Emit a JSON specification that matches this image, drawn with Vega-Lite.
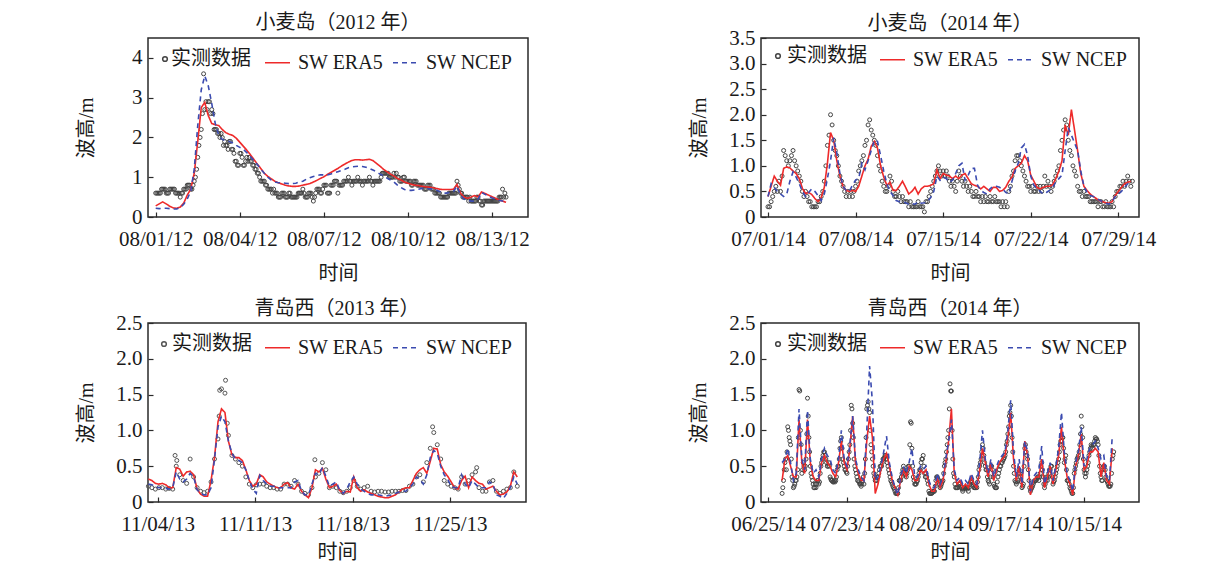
{
  "$schema": "https://vega.github.io/schema/vega-lite/v6.json",
  "background": "white",
  "padding": {"left": 75, "top": 12, "right": 10, "bottom": 5},
  "config": {
    "font": "Liberation Serif, Noto Sans CJK SC",
    "view": {"stroke": "#2a2a2a", "strokeWidth": 1.5},
    "axis": {
      "grid": false, "domain": false, "ticks": true,
      "tickColor": "#2a2a2a", "tickSize": -5, "tickWidth": 1.2,
      "labelFont": "Liberation Serif, Noto Sans CJK SC", "labelFontSize": 21, "labelColor": "#1a1a1a",
      "titleFont": "Liberation Serif, Noto Sans CJK SC", "titleFontSize": 20, "titleFontWeight": "normal", "titleColor": "#1a1a1a",
      "labelOverlap": false, "labelFlush": false, "labelBound": false
    },
    "axisX": {"labelPadding": 16, "minExtent": 32, "maxExtent": 32, "titlePadding": 14},
    "axisY": {"labelPadding": 11, "minExtent": 34, "maxExtent": 34, "titlePadding": 18},
    "title": {"font": "Liberation Serif, Noto Sans CJK SC", "fontSize": 20, "fontWeight": "normal", "color": "#1a1a1a", "frame": "group"},
    "legend": {"labelFont": "Liberation Serif, Noto Sans CJK SC", "labelFontSize": 20, "labelColor": "#1a1a1a", "padding": 0, "rowPadding": 0}
  },
  "datasets": {
    "p1": [
      {"t":"2012080100","o":0.6,"e":0.28,"n":0.22},{"t":"2012080103","o":0.6,"e":0.33,"n":0.21},{"t":"2012080106","o":0.7,"e":0.38,"n":0.22},{"t":"2012080109","o":0.6,"e":0.33,"n":0.22},
      {"t":"2012080112","o":0.7,"e":0.27,"n":0.21},{"t":"2012080115","o":0.7,"e":0.23,"n":0.2},{"t":"2012080118","o":0.6,"e":0.22,"n":0.2},{"t":"2012080121","o":0.5,"e":0.25,"n":0.24},
      {"t":"2012080200","o":0.7,"e":0.35,"n":0.32},{"t":"2012080203","o":0.8,"e":0.55,"n":0.45},{"t":"2012080206","o":0.7,"e":0.7,"n":0.65},{"t":"2012080209","o":0.9,"e":1.1,"n":1.2},
      {"t":"2012080212","o":1.5,"e":1.9,"n":2.3},{"t":"2012080215","o":2.2,"e":2.75,"n":3.2},{"t":"2012080217","o":3.6},{"t":"2012080218","o":2.7,"e":2.88,"n":3.55},{"t":"2012080221","o":2.9,"e":2.55,"n":3.3},
      {"t":"2012080300","o":2.7,"e":2.35,"n":2.85},{"t":"2012080303","o":2.2,"e":2.32,"n":2.35},{"t":"2012080306","o":2.1,"e":2.3,"n":2.05},{"t":"2012080309","o":2.0,"e":2.2,"n":1.95},
      {"t":"2012080312","o":1.8,"e":2.12,"n":1.92},{"t":"2012080315","o":1.9,"e":2.08,"n":1.9},{"t":"2012080318","o":1.7,"e":2.05,"n":1.86},{"t":"2012080321","o":1.4,"e":1.98,"n":1.8},
      {"t":"2012080400","o":1.6,"e":1.88,"n":1.75},{"t":"2012080403","o":1.3,"e":1.78,"n":1.7},{"t":"2012080406","o":1.5,"e":1.68,"n":1.62},{"t":"2012080409","o":1.4,"e":1.57,"n":1.52},
      {"t":"2012080412","o":1.3,"e":1.45,"n":1.42},{"t":"2012080415","o":1.1,"e":1.33,"n":1.32},{"t":"2012080418","o":0.9,"e":1.22,"n":1.2},{"t":"2012080421","o":0.9,"e":1.1,"n":1.1},
      {"t":"2012080500","o":0.7,"e":1.02,"n":1.0},{"t":"2012080503","o":0.7,"e":0.96,"n":0.93},{"t":"2012080506","o":0.6,"e":0.9,"n":0.88},{"t":"2012080509","o":0.5,"e":0.86,"n":0.86},
      {"t":"2012080512","o":0.6,"e":0.83,"n":0.86},{"t":"2012080515","o":0.5,"e":0.8,"n":0.85},{"t":"2012080518","o":0.6,"e":0.78,"n":0.84},{"t":"2012080521","o":0.5,"e":0.77,"n":0.84},
      {"t":"2012080600","o":0.5,"e":0.77,"n":0.85},{"t":"2012080603","o":0.6,"e":0.78,"n":0.88},{"t":"2012080606","o":0.7,"e":0.8,"n":0.9},{"t":"2012080609","o":0.5,"e":0.82,"n":0.95},
      {"t":"2012080612","o":0.6,"e":0.84,"n":0.99},{"t":"2012080615","o":0.4,"e":0.88,"n":1.02},{"t":"2012080618","o":0.7,"e":0.92,"n":1.04},{"t":"2012080621","o":0.6,"e":0.97,"n":1.06},
      {"t":"2012080700","o":0.8,"e":1.01,"n":1.06},{"t":"2012080703","o":0.6,"e":1.07,"n":1.06},{"t":"2012080706","o":0.8,"e":1.12,"n":1.08},{"t":"2012080709","o":0.9,"e":1.17,"n":1.11},
      {"t":"2012080712","o":0.6,"e":1.22,"n":1.14},{"t":"2012080715","o":0.8,"e":1.28,"n":1.17},{"t":"2012080718","o":0.9,"e":1.33,"n":1.2},{"t":"2012080721","o":1.0,"e":1.38,"n":1.24},
      {"t":"2012080800","o":0.8,"e":1.42,"n":1.26},{"t":"2012080803","o":0.9,"e":1.44,"n":1.27},{"t":"2012080806","o":0.9,"e":1.44,"n":1.28},{"t":"2012080809","o":0.8,"e":1.43,"n":1.27},
      {"t":"2012080812","o":0.9,"e":1.44,"n":1.25},{"t":"2012080815","o":1.0,"e":1.45,"n":1.22},{"t":"2012080818","o":0.8,"e":1.42,"n":1.18},{"t":"2012080821","o":0.9,"e":1.35,"n":1.14},
      {"t":"2012080900","o":0.9,"e":1.28,"n":1.08},{"t":"2012080903","o":1.1,"e":1.2,"n":1.04},{"t":"2012080906","o":1.1,"e":1.14,"n":0.98},{"t":"2012080909","o":1.0,"e":1.08,"n":0.93},
      {"t":"2012080912","o":1.1,"e":1.03,"n":0.88},{"t":"2012080915","o":1.0,"e":0.97,"n":0.8},{"t":"2012080918","o":0.9,"e":0.93,"n":0.74},{"t":"2012080921","o":1.0,"e":0.88,"n":0.69},
      {"t":"2012081000","o":0.9,"e":0.85,"n":0.67},{"t":"2012081003","o":0.8,"e":0.82,"n":0.67},{"t":"2012081006","o":0.9,"e":0.8,"n":0.68},{"t":"2012081009","o":0.8,"e":0.79,"n":0.7},
      {"t":"2012081012","o":0.8,"e":0.77,"n":0.72},{"t":"2012081015","o":0.7,"e":0.76,"n":0.72},{"t":"2012081018","o":0.8,"e":0.75,"n":0.71},{"t":"2012081021","o":0.7,"e":0.74,"n":0.7},
      {"t":"2012081100","o":0.6,"e":0.72,"n":0.68},{"t":"2012081103","o":0.6,"e":0.7,"n":0.64},{"t":"2012081106","o":0.5,"e":0.69,"n":0.6},{"t":"2012081109","o":0.5,"e":0.69,"n":0.6},
      {"t":"2012081112","o":0.6,"e":0.69,"n":0.62},{"t":"2012081115","o":0.6,"e":0.7,"n":0.64},{"t":"2012081118","o":0.9,"e":0.82,"n":0.78},{"t":"2012081121","o":0.6,"e":0.6,"n":0.55},
      {"t":"2012081200","o":0.5,"e":0.5,"n":0.45},{"t":"2012081203","o":0.5,"e":0.47,"n":0.43},{"t":"2012081206","o":0.4,"e":0.5,"n":0.4},{"t":"2012081209","o":0.4,"e":0.54,"n":0.4},
      {"t":"2012081212","o":0.5,"e":0.5,"n":0.45},{"t":"2012081215","o":0.3,"e":0.63,"n":0.62},{"t":"2012081218","o":0.4,"e":0.59,"n":0.57},{"t":"2012081221","o":0.4,"e":0.55,"n":0.52},
      {"t":"2012081300","o":0.4,"e":0.51,"n":0.48},{"t":"2012081303","o":0.4,"e":0.47,"n":0.45},{"t":"2012081306","o":0.5,"e":0.43,"n":0.42},{"t":"2012081309","o":0.7,"e":0.4,"n":0.4},
      {"t":"2012081312","o":0.5,"e":0.37,"n":0.38},
      {"t":"2012080101","o":0.6},{"t":"2012080102","o":0.6},{"t":"2012080104","o":0.6},{"t":"2012080105","o":0.7},{"t":"2012080107","o":0.7},{"t":"2012080108","o":0.7},
      {"t":"2012080110","o":0.6},{"t":"2012080111","o":0.6},{"t":"2012080113","o":0.7},{"t":"2012080114","o":0.7},{"t":"2012080116","o":0.7},{"t":"2012080117","o":0.6},
      {"t":"2012080119","o":0.6},{"t":"2012080120","o":0.6},{"t":"2012080122","o":0.6},{"t":"2012080123","o":0.6},
      {"t":"2012080201","o":0.7},{"t":"2012080202","o":0.7},{"t":"2012080204","o":0.8},{"t":"2012080205","o":0.8},{"t":"2012080207","o":0.7},{"t":"2012080208","o":0.8},
      {"t":"2012080210","o":1.0},{"t":"2012080211","o":1.2},{"t":"2012080213","o":1.8},{"t":"2012080214","o":2.0},{"t":"2012080216","o":2.6},
      {"t":"2012080219","o":2.9},{"t":"2012080220","o":2.7},{"t":"2012080222","o":2.9},{"t":"2012080223","o":2.6},
      {"t":"2012080301","o":2.6},{"t":"2012080302","o":2.2},{"t":"2012080304","o":2.2},{"t":"2012080305","o":2.1},{"t":"2012080307","o":2.0},{"t":"2012080308","o":2.1},
      {"t":"2012080310","o":1.8},{"t":"2012080311","o":1.9},{"t":"2012080313","o":1.8},{"t":"2012080314","o":1.7},{"t":"2012080316","o":1.9},{"t":"2012080317","o":1.7},
      {"t":"2012080319","o":1.6},{"t":"2012080320","o":1.4},{"t":"2012080322","o":1.3},{"t":"2012080323","o":1.3},
      {"t":"2012080401","o":1.6},{"t":"2012080402","o":1.5},{"t":"2012080404","o":1.3},{"t":"2012080405","o":1.4},{"t":"2012080407","o":1.4},{"t":"2012080408","o":1.5},
      {"t":"2012080410","o":1.4},{"t":"2012080411","o":1.3},{"t":"2012080413","o":1.2},{"t":"2012080414","o":1.2},{"t":"2012080416","o":1.1},{"t":"2012080417","o":1.0},
      {"t":"2012080419","o":0.9},{"t":"2012080420","o":0.9},{"t":"2012080422","o":0.8},{"t":"2012080423","o":0.8},
      {"t":"2012080501","o":0.7},{"t":"2012080502","o":0.7},{"t":"2012080504","o":0.6},{"t":"2012080505","o":0.7},{"t":"2012080507","o":0.6},{"t":"2012080508","o":0.6},
      {"t":"2012080510","o":0.5},{"t":"2012080511","o":0.5},{"t":"2012080513","o":0.6},{"t":"2012080514","o":0.6},{"t":"2012080516","o":0.5},{"t":"2012080517","o":0.5},
      {"t":"2012080519","o":0.6},{"t":"2012080520","o":0.5},{"t":"2012080522","o":0.5},{"t":"2012080523","o":0.5},
      {"t":"2012080601","o":0.5},{"t":"2012080602","o":0.6},{"t":"2012080604","o":0.6},{"t":"2012080605","o":0.6},{"t":"2012080607","o":0.6},{"t":"2012080608","o":0.5},
      {"t":"2012080610","o":0.5},{"t":"2012080611","o":0.6},{"t":"2012080613","o":0.6},{"t":"2012080614","o":0.5},{"t":"2012080616","o":0.5},{"t":"2012080617","o":0.6},
      {"t":"2012080619","o":0.7},{"t":"2012080620","o":0.7},{"t":"2012080622","o":0.6},{"t":"2012080623","o":0.7},
      {"t":"2012080701","o":0.8},{"t":"2012080702","o":0.8},{"t":"2012080704","o":0.6},{"t":"2012080705","o":0.6},{"t":"2012080707","o":0.8},{"t":"2012080708","o":0.8},
      {"t":"2012080710","o":0.9},{"t":"2012080711","o":0.9},{"t":"2012080713","o":0.8},{"t":"2012080714","o":0.8},{"t":"2012080716","o":0.8},{"t":"2012080717","o":0.9},
      {"t":"2012080719","o":0.9},{"t":"2012080720","o":0.9},{"t":"2012080722","o":0.9},{"t":"2012080723","o":0.9},
      {"t":"2012080801","o":0.9},{"t":"2012080802","o":0.9},{"t":"2012080804","o":0.9},{"t":"2012080805","o":1.0},{"t":"2012080807","o":0.9},{"t":"2012080808","o":0.9},
      {"t":"2012080810","o":0.9},{"t":"2012080811","o":0.9},{"t":"2012080813","o":0.9},{"t":"2012080814","o":0.9},{"t":"2012080816","o":0.9},{"t":"2012080817","o":0.9},
      {"t":"2012080819","o":0.9},{"t":"2012080820","o":0.9},{"t":"2012080822","o":0.9},{"t":"2012080823","o":0.9},
      {"t":"2012080901","o":1.0},{"t":"2012080902","o":1.1},{"t":"2012080904","o":1.1},{"t":"2012080905","o":1.1},{"t":"2012080907","o":1.1},{"t":"2012080908","o":1.0},
      {"t":"2012080910","o":1.0},{"t":"2012080911","o":1.0},{"t":"2012080913","o":1.0},{"t":"2012080914","o":1.1},{"t":"2012080916","o":1.0},{"t":"2012080917","o":0.9},
      {"t":"2012080919","o":0.9},{"t":"2012080920","o":1.0},{"t":"2012080922","o":0.9},{"t":"2012080923","o":0.9},
      {"t":"2012081001","o":0.9},{"t":"2012081002","o":0.9},{"t":"2012081004","o":0.8},{"t":"2012081005","o":0.9},{"t":"2012081007","o":0.9},{"t":"2012081008","o":0.8},
      {"t":"2012081010","o":0.8},{"t":"2012081011","o":0.8},{"t":"2012081013","o":0.8},{"t":"2012081014","o":0.7},{"t":"2012081016","o":0.7},{"t":"2012081017","o":0.8},
      {"t":"2012081019","o":0.8},{"t":"2012081020","o":0.7},{"t":"2012081022","o":0.7},{"t":"2012081023","o":0.6},
      {"t":"2012081101","o":0.6},{"t":"2012081102","o":0.6},{"t":"2012081104","o":0.5},{"t":"2012081105","o":0.5},{"t":"2012081107","o":0.5},{"t":"2012081108","o":0.5},
      {"t":"2012081110","o":0.5},{"t":"2012081111","o":0.6},{"t":"2012081113","o":0.6},{"t":"2012081114","o":0.6},{"t":"2012081116","o":0.6},{"t":"2012081117","o":0.6},
      {"t":"2012081119","o":0.8},{"t":"2012081120","o":0.7},{"t":"2012081122","o":0.6},{"t":"2012081123","o":0.5},
      {"t":"2012081201","o":0.5},{"t":"2012081202","o":0.5},{"t":"2012081204","o":0.4},{"t":"2012081205","o":0.5},{"t":"2012081207","o":0.4},{"t":"2012081208","o":0.4},
      {"t":"2012081210","o":0.4},{"t":"2012081211","o":0.5},{"t":"2012081213","o":0.4},{"t":"2012081214","o":0.4},{"t":"2012081216","o":0.3},{"t":"2012081217","o":0.4},
      {"t":"2012081219","o":0.4},{"t":"2012081220","o":0.4},{"t":"2012081222","o":0.4},{"t":"2012081223","o":0.4},
      {"t":"2012081301","o":0.4},{"t":"2012081302","o":0.4},{"t":"2012081304","o":0.4},{"t":"2012081305","o":0.4},{"t":"2012081307","o":0.5},{"t":"2012081308","o":0.5},
      {"t":"2012081310","o":0.5},{"t":"2012081311","o":0.6}
    ],
    "p2": [
      {"t":"2014070100","o":0.2,"e":0.4,"n":0.4},{"t":"2014070103","o":0.2},{"t":"2014070106","o":0.3,"e":0.6,"n":0.65},{"t":"2014070109","o":0.4},
      {"t":"2014070112","o":0.5,"e":0.8,"n":0.58},{"t":"2014070115","o":0.6},{"t":"2014070118","o":0.5,"e":0.7,"n":0.5},{"t":"2014070121","o":0.7},
      {"t":"2014070200","o":0.5,"e":0.62,"n":0.45},{"t":"2014070203","o":0.8},{"t":"2014070206","o":1.3,"e":0.95,"n":0.4},{"t":"2014070209","o":1.2},
      {"t":"2014070212","o":1.1,"e":0.98,"n":0.45},{"t":"2014070215","o":1.0},{"t":"2014070218","o":1.1,"e":0.96,"n":0.7},{"t":"2014070221","o":1.2},
      {"t":"2014070300","o":1.3,"e":0.9,"n":0.88},{"t":"2014070303","o":1.1},{"t":"2014070306","o":1.0,"e":0.85,"n":0.78},{"t":"2014070309","o":0.9},
      {"t":"2014070312","o":0.8,"e":0.75,"n":0.65},{"t":"2014070315","o":0.7},{"t":"2014070318","o":0.5,"e":0.56,"n":0.5},{"t":"2014070321","o":0.4},
      {"t":"2014070400","o":0.5,"e":0.46,"n":0.4},{"t":"2014070403","o":0.4},{"t":"2014070406","o":0.3,"e":0.48,"n":0.48},{"t":"2014070409","o":0.3},
      {"t":"2014070412","o":0.2,"e":0.44,"n":0.55},{"t":"2014070415","o":0.2},{"t":"2014070418","o":0.2,"e":0.36,"n":0.5},{"t":"2014070421","o":0.2},
      {"t":"2014070500","o":0.3,"e":0.3,"n":0.42},{"t":"2014070503","o":0.3},{"t":"2014070506","o":0.4,"e":0.38,"n":0.32},{"t":"2014070509","o":0.5},
      {"t":"2014070512","o":0.7,"e":0.58,"n":0.45},{"t":"2014070515","o":1.0},{"t":"2014070518","o":1.4,"e":1.05,"n":0.75},{"t":"2014070521","o":1.6},
      {"t":"2014070600","o":2.0,"e":1.65,"n":1.1},{"t":"2014070603","o":1.8},{"t":"2014070606","o":1.5,"e":1.5,"n":1.55},{"t":"2014070609","o":1.3},
      {"t":"2014070612","o":1.2,"e":1.1,"n":1.25},{"t":"2014070615","o":1.0},{"t":"2014070618","o":0.8,"e":0.8,"n":0.85},{"t":"2014070621","o":0.7},
      {"t":"2014070700","o":0.6,"e":0.6,"n":0.6},{"t":"2014070703","o":0.5},{"t":"2014070706","o":0.4,"e":0.52,"n":0.52},{"t":"2014070709","o":0.5},
      {"t":"2014070712","o":0.4,"e":0.5,"n":0.5},{"t":"2014070715","o":0.5},{"t":"2014070718","o":0.4,"e":0.52,"n":0.62},{"t":"2014070721","o":0.5},
      {"t":"2014070800","o":0.6,"e":0.5,"n":0.72},{"t":"2014070803","o":0.7},{"t":"2014070806","o":0.9,"e":0.6,"n":0.75},{"t":"2014070809","o":1.0},
      {"t":"2014070812","o":1.1,"e":0.8,"n":1.05},{"t":"2014070815","o":1.2},{"t":"2014070818","o":1.4,"e":1.0,"n":0.92},{"t":"2014070821","o":1.5},
      {"t":"2014070900","o":1.8,"e":1.13,"n":1.1},{"t":"2014070903","o":1.9},{"t":"2014070906","o":1.7,"e":1.38,"n":1.3},{"t":"2014070909","o":1.6},
      {"t":"2014070912","o":1.5,"e":1.48,"n":1.5},{"t":"2014070915","o":1.4},{"t":"2014070918","o":1.2,"e":1.35,"n":1.48},{"t":"2014070921","o":1.0},
      {"t":"2014071000","o":0.9,"e":1.0,"n":1.2},{"t":"2014071003","o":0.7},{"t":"2014071006","o":0.6,"e":0.78,"n":0.9},{"t":"2014071009","o":0.5},
      {"t":"2014071012","o":0.5,"e":0.62,"n":0.65},{"t":"2014071015","o":0.6},{"t":"2014071018","o":0.8,"e":0.68,"n":0.5},{"t":"2014071021","o":0.7},
      {"t":"2014071100","o":0.5,"e":0.52,"n":0.42},{"t":"2014071103","o":0.4},{"t":"2014071106","o":0.4,"e":0.52,"n":0.32},{"t":"2014071109","o":0.5},
      {"t":"2014071112","o":0.4,"e":0.6,"n":0.3},{"t":"2014071115","o":0.3},{"t":"2014071118","o":0.4,"e":0.7,"n":0.3},{"t":"2014071121","o":0.3},
      {"t":"2014071200","o":0.3,"e":0.58,"n":0.28},{"t":"2014071203","o":0.3},{"t":"2014071206","o":0.2,"e":0.45,"n":0.25},{"t":"2014071209","o":0.3},
      {"t":"2014071212","o":0.2,"e":0.5,"n":0.26},{"t":"2014071215","o":0.2},{"t":"2014071218","o":0.2,"e":0.58,"n":0.25},{"t":"2014071221","o":0.2},
      {"t":"2014071300","o":0.3,"e":0.45,"n":0.3},{"t":"2014071303","o":0.2},{"t":"2014071306","o":0.2,"e":0.55,"n":0.27},{"t":"2014071309","o":0.2},
      {"t":"2014071312","o":0.1,"e":0.6,"n":0.28},{"t":"2014071315","o":0.3},{"t":"2014071318","o":0.3,"e":0.6,"n":0.3},{"t":"2014071321","o":0.4},
      {"t":"2014071400","o":0.5,"e":0.62,"n":0.38},{"t":"2014071403","o":0.6},{"t":"2014071406","o":0.7,"e":0.65,"n":0.5},{"t":"2014071409","o":0.8},
      {"t":"2014071412","o":0.9,"e":0.92,"n":0.8},{"t":"2014071415","o":1.0},{"t":"2014071418","o":0.9,"e":0.75,"n":0.72},{"t":"2014071421","o":0.8},
      {"t":"2014071500","o":0.9,"e":0.85,"n":0.78},{"t":"2014071503","o":0.8},{"t":"2014071506","o":0.9,"e":0.82,"n":0.75},{"t":"2014071509","o":0.8},
      {"t":"2014071512","o":0.7,"e":0.8,"n":0.68},{"t":"2014071515","o":0.6},{"t":"2014071518","o":0.7,"e":0.75,"n":0.72},{"t":"2014071521","o":0.6},
      {"t":"2014071600","o":0.5,"e":0.8,"n":0.85},{"t":"2014071603","o":0.7},{"t":"2014071606","o":0.9,"e":0.75,"n":1.0},{"t":"2014071609","o":0.8},
      {"t":"2014071612","o":0.7,"e":0.82,"n":1.05},{"t":"2014071615","o":0.6},{"t":"2014071618","o":0.7,"e":0.85,"n":0.72},{"t":"2014071621","o":0.6},
      {"t":"2014071700","o":0.5,"e":0.75,"n":0.82},{"t":"2014071703","o":0.6},{"t":"2014071706","o":0.5,"e":0.65,"n":0.95},{"t":"2014071709","o":0.4},
      {"t":"2014071712","o":0.4,"e":0.62,"n":0.95},{"t":"2014071715","o":0.5},{"t":"2014071718","o":0.4,"e":0.6,"n":0.62},{"t":"2014071721","o":0.4},
      {"t":"2014071800","o":0.3,"e":0.55,"n":0.52},{"t":"2014071803","o":0.4},{"t":"2014071806","o":0.3,"e":0.6,"n":0.48},{"t":"2014071809","o":0.4},
      {"t":"2014071812","o":0.3,"e":0.55,"n":0.45},{"t":"2014071815","o":0.3},{"t":"2014071818","o":0.4,"e":0.5,"n":0.55},{"t":"2014071821","o":0.3},
      {"t":"2014071900","o":0.3,"e":0.58,"n":0.6},{"t":"2014071903","o":0.4},{"t":"2014071906","o":0.3,"e":0.58,"n":0.6},{"t":"2014071909","o":0.3},
      {"t":"2014071912","o":0.3,"e":0.5,"n":0.58},{"t":"2014071915","o":0.2},{"t":"2014071918","o":0.3,"e":0.52,"n":0.55},{"t":"2014071921","o":0.2},
      {"t":"2014072000","o":0.3,"e":0.58,"n":0.48},{"t":"2014072003","o":0.2},{"t":"2014072006","o":0.5,"e":0.7,"n":0.45},{"t":"2014072009","o":0.6},
      {"t":"2014072012","o":0.8,"e":0.78,"n":0.7},{"t":"2014072015","o":0.9},{"t":"2014072018","o":1.1,"e":0.95,"n":0.9},{"t":"2014072021","o":1.2},
      {"t":"2014072100","o":1.2,"e":1.0,"n":1.05},{"t":"2014072103","o":1.1},{"t":"2014072106","o":1.0,"e":1.05,"n":1.35},{"t":"2014072109","o":0.9},
      {"t":"2014072112","o":0.8,"e":1.2,"n":1.42},{"t":"2014072115","o":0.7},{"t":"2014072118","o":0.6,"e":1.1,"n":1.2},{"t":"2014072121","o":0.6},
      {"t":"2014072200","o":0.5,"e":0.82,"n":0.8},{"t":"2014072203","o":0.6},{"t":"2014072206","o":0.5,"e":0.7,"n":0.62},{"t":"2014072209","o":0.5},
      {"t":"2014072212","o":0.6,"e":0.58,"n":0.56},{"t":"2014072215","o":0.5},{"t":"2014072218","o":0.6,"e":0.55,"n":0.5},{"t":"2014072221","o":0.5},
      {"t":"2014072300","o":0.6,"e":0.58,"n":0.45},{"t":"2014072303","o":0.8},{"t":"2014072306","o":0.6,"e":0.6,"n":0.48},{"t":"2014072309","o":0.7},
      {"t":"2014072312","o":0.6,"e":0.6,"n":0.52},{"t":"2014072315","o":0.5},{"t":"2014072318","o":0.6,"e":0.63,"n":0.58},{"t":"2014072321","o":0.7},
      {"t":"2014072400","o":0.8,"e":0.75,"n":0.68},{"t":"2014072403","o":0.9},{"t":"2014072406","o":1.0,"e":0.9,"n":0.75},{"t":"2014072409","o":1.3},
      {"t":"2014072412","o":1.5,"e":1.1,"n":0.82},{"t":"2014072415","o":1.7},{"t":"2014072418","o":1.9,"e":1.8,"n":1.3},{"t":"2014072421","o":1.8},
      {"t":"2014072500","o":1.5,"e":1.6,"n":1.75},{"t":"2014072503","o":1.3},{"t":"2014072506","o":1.2,"e":2.1,"n":1.6},{"t":"2014072509","o":1.0},
      {"t":"2014072512","o":0.9,"e":1.7,"n":1.45},{"t":"2014072515","o":0.8},{"t":"2014072518","o":0.6,"e":1.29,"n":1.3},{"t":"2014072521","o":0.5},
      {"t":"2014072600","o":0.5,"e":0.85,"n":0.9},{"t":"2014072603","o":0.4},{"t":"2014072606","o":0.5,"e":0.6,"n":0.6},{"t":"2014072609","o":0.4},
      {"t":"2014072612","o":0.4,"e":0.52,"n":0.48},{"t":"2014072615","o":0.4},{"t":"2014072618","o":0.3,"e":0.45,"n":0.42},{"t":"2014072621","o":0.3},
      {"t":"2014072700","o":0.3,"e":0.4,"n":0.4},{"t":"2014072703","o":0.3},{"t":"2014072706","o":0.3,"e":0.36,"n":0.37},{"t":"2014072709","o":0.2},
      {"t":"2014072712","o":0.3,"e":0.32,"n":0.33},{"t":"2014072715","o":0.3},{"t":"2014072718","o":0.2,"e":0.3,"n":0.3},{"t":"2014072721","o":0.2},
      {"t":"2014072800","o":0.3,"e":0.28,"n":0.27},{"t":"2014072803","o":0.2},{"t":"2014072806","o":0.2,"e":0.27,"n":0.25},{"t":"2014072809","o":0.2},
      {"t":"2014072812","o":0.3,"e":0.3,"n":0.3},{"t":"2014072815","o":0.2},{"t":"2014072818","o":0.4,"e":0.42,"n":0.4},{"t":"2014072821","o":0.5},
      {"t":"2014072900","o":0.5,"e":0.5,"n":0.45},{"t":"2014072903","o":0.6},{"t":"2014072906","o":0.6,"e":0.58,"n":0.5},{"t":"2014072909","o":0.7},
      {"t":"2014072912","o":0.6,"e":0.65,"n":0.58},{"t":"2014072915","o":0.7},{"t":"2014072918","o":0.8,"e":0.68,"n":0.65},{"t":"2014072921","o":0.7},
      {"t":"2014073000","o":0.6,"e":0.7,"n":0.7},{"t":"2014073003","o":0.7}
    ],
    "p3": [
      {"t":"2013110308","o":0.22,"e":0.32,"n":0.25},{"t":"2013110314","o":0.2,"e":0.3,"n":0.24},{"t":"2013110320","o":0.18,"e":0.26,"n":0.22},{"t":"2013110402","o":0.2,"e":0.25,"n":0.2},
      {"t":"2013110408","o":0.2,"e":0.26,"n":0.2},{"t":"2013110414","o":0.18,"e":0.24,"n":0.19},{"t":"2013110420","o":0.19,"e":0.2,"n":0.18},{"t":"2013110502","o":0.18,"e":0.2,"n":0.2},
      {"t":"2013110506","o":0.65},{"t":"2013110508","o":0.5,"e":0.48,"n":0.42},{"t":"2013110509","o":0.58},{"t":"2013110514","o":0.38,"e":0.46,"n":0.32},{"t":"2013110520","o":0.3,"e":0.36,"n":0.28},
      {"t":"2013110602","o":0.26,"e":0.42,"n":0.32},{"t":"2013110608","o":0.6,"e":0.43,"n":0.4},{"t":"2013110614","o":0.35,"e":0.38,"n":0.35},{"t":"2013110620","o":0.2,"e":0.18,"n":0.17},
      {"t":"2013110702","o":0.15,"e":0.11,"n":0.12},{"t":"2013110708","o":0.13,"e":0.08,"n":0.1},{"t":"2013110714","o":0.15,"e":0.08,"n":0.1},{"t":"2013110720","o":0.28,"e":0.3,"n":0.2},
      {"t":"2013110802","o":0.6,"e":0.62,"n":0.6},{"t":"2013110808","o":0.88,"e":1.12,"n":1.05},{"t":"2013110810","o":1.2},{"t":"2013110811","o":1.56},{"t":"2013110814","o":1.58,"e":1.3,"n":1.2},
      {"t":"2013110820","o":1.52,"e":1.25,"n":1.12},{"t":"2013110821","o":1.7},{"t":"2013110900","o":1.1},{"t":"2013110902","o":0.93,"e":0.85,"n":0.85},{"t":"2013110908","o":0.65,"e":0.66,"n":0.68},
      {"t":"2013110914","o":0.6,"e":0.62,"n":0.6},{"t":"2013110920","o":0.55,"e":0.62,"n":0.58},{"t":"2013111002","o":0.5,"e":0.58,"n":0.55},{"t":"2013111008","o":0.35,"e":0.45,"n":0.45},
      {"t":"2013111014","o":0.25,"e":0.3,"n":0.3},{"t":"2013111020","o":0.2,"e":0.22,"n":0.18},{"t":"2013111102","o":0.24,"e":0.25,"n":0.12},{"t":"2013111108","o":0.25,"e":0.38,"n":0.37},
      {"t":"2013111114","o":0.25,"e":0.35,"n":0.3},{"t":"2013111120","o":0.22,"e":0.28,"n":0.25},{"t":"2013111202","o":0.2,"e":0.25,"n":0.22},{"t":"2013111208","o":0.2,"e":0.22,"n":0.22},
      {"t":"2013111214","o":0.18,"e":0.2,"n":0.2},{"t":"2013111220","o":0.18,"e":0.2,"n":0.2},{"t":"2013111302","o":0.25,"e":0.25,"n":0.2},{"t":"2013111308","o":0.25,"e":0.27,"n":0.2},
      {"t":"2013111314","o":0.22,"e":0.2,"n":0.2},{"t":"2013111320","o":0.3,"e":0.18,"n":0.28},{"t":"2013111402","o":0.25,"e":0.25,"n":0.3},{"t":"2013111408","o":0.15,"e":0.15,"n":0.15},
      {"t":"2013111414","o":0.12,"e":0.1,"n":0.1},{"t":"2013111420","o":0.1,"e":0.06,"n":0.1},{"t":"2013111502","o":0.2,"e":0.2,"n":0.25},{"t":"2013111507","o":0.59},{"t":"2013111508","o":0.35,"e":0.45,"n":0.4},
      {"t":"2013111514","o":0.4,"e":0.42,"n":0.38},{"t":"2013111520","o":0.55,"e":0.47,"n":0.48},{"t":"2013111602","o":0.45,"e":0.32,"n":0.36},{"t":"2013111608","o":0.2,"e":0.2,"n":0.22},
      {"t":"2013111614","o":0.22,"e":0.22,"n":0.25},{"t":"2013111620","o":0.2,"e":0.25,"n":0.28},{"t":"2013111702","o":0.15,"e":0.16,"n":0.16},{"t":"2013111708","o":0.13,"e":0.12,"n":0.12},
      {"t":"2013111714","o":0.15,"e":0.15,"n":0.18},{"t":"2013111720","o":0.2,"e":0.14,"n":0.28},{"t":"2013111802","o":0.3,"e":0.35,"n":0.35},{"t":"2013111808","o":0.22,"e":0.2,"n":0.25},
      {"t":"2013111814","o":0.18,"e":0.15,"n":0.18},{"t":"2013111820","o":0.2,"e":0.17,"n":0.15},{"t":"2013111902","o":0.22,"e":0.14,"n":0.12},{"t":"2013111908","o":0.15,"e":0.12,"n":0.1},
      {"t":"2013111914","o":0.14,"e":0.1,"n":0.1},{"t":"2013111920","o":0.15,"e":0.08,"n":0.1},{"t":"2013112002","o":0.15,"e":0.07,"n":0.09},{"t":"2013112008","o":0.14,"e":0.06,"n":0.08},
      {"t":"2013112014","o":0.14,"e":0.06,"n":0.09},{"t":"2013112020","o":0.15,"e":0.08,"n":0.1},{"t":"2013112102","o":0.15,"e":0.1,"n":0.12},{"t":"2013112108","o":0.15,"e":0.14,"n":0.14},
      {"t":"2013112114","o":0.16,"e":0.18,"n":0.15},{"t":"2013112120","o":0.16,"e":0.2,"n":0.15},{"t":"2013112202","o":0.22,"e":0.2,"n":0.2},{"t":"2013112208","o":0.25,"e":0.3,"n":0.25},
      {"t":"2013112214","o":0.35,"e":0.4,"n":0.35},{"t":"2013112220","o":0.38,"e":0.45,"n":0.32},{"t":"2013112302","o":0.28,"e":0.48,"n":0.25},{"t":"2013112308","o":0.55,"e":0.4,"n":0.38},
      {"t":"2013112314","o":0.75,"e":0.57,"n":0.62},{"t":"2013112318","o":1.05},{"t":"2013112320","o":0.97,"e":0.75,"n":0.72},{"t":"2013112402","o":0.8,"e":0.74,"n":0.68},
      {"t":"2013112408","o":0.6,"e":0.52,"n":0.5},{"t":"2013112414","o":0.3,"e":0.42,"n":0.38},{"t":"2013112420","o":0.25,"e":0.36,"n":0.32},{"t":"2013112502","o":0.22,"e":0.28,"n":0.22},
      {"t":"2013112508","o":0.2,"e":0.2,"n":0.2},{"t":"2013112514","o":0.18,"e":0.18,"n":0.2},{"t":"2013112520","o":0.35,"e":0.3,"n":0.38},{"t":"2013112602","o":0.25,"e":0.36,"n":0.25},
      {"t":"2013112608","o":0.3,"e":0.2,"n":0.2},{"t":"2013112614","o":0.38,"e":0.35,"n":0.3},{"t":"2013112620","o":0.42,"e":0.3,"n":0.25},{"t":"2013112622","o":0.48},{"t":"2013112702","o":0.2,"e":0.26,"n":0.2},
      {"t":"2013112708","o":0.15,"e":0.25,"n":0.2},{"t":"2013112714","o":0.15,"e":0.18,"n":0.2},{"t":"2013112720","o":0.28,"e":0.2,"n":0.28},{"t":"2013112802","o":0.3,"e":0.22,"n":0.25},
      {"t":"2013112808","o":0.15,"e":0.15,"n":0.1},{"t":"2013112814","o":0.12,"e":0.1,"n":0.08},{"t":"2013112820","o":0.15,"e":0.11,"n":0.05},{"t":"2013112902","o":0.18,"e":0.14,"n":0.12},
      {"t":"2013112908","o":0.2,"e":0.22,"n":0.2},{"t":"2013112914","o":0.42,"e":0.42,"n":0.35},{"t":"2013112920","o":0.22,"e":0.35,"n":0.25}
    ],
    "p4": [
      {"t":"2014063000","o":0.12,"e":0.3,"n":0.55},{"t":"2014063012","o":0.3},{"t":"2014070100","o":0.55,"e":0.6,"n":0.6},{"t":"2014070112","o":0.45},
      {"t":"2014070200","o":1.05,"e":0.65,"n":0.75},{"t":"2014070212","o":0.9},{"t":"2014070300","o":0.8,"e":0.5,"n":0.55},{"t":"2014070312","o":0.35},
      {"t":"2014070400","o":0.2,"e":0.35,"n":0.3},{"t":"2014070412","o":0.25},{"t":"2014070500","o":0.3,"e":0.35,"n":0.4},{"t":"2014070512","o":0.45},
      {"t":"2014070600","o":1.57,"e":1.15,"n":1.3},{"t":"2014070612","o":1.0},{"t":"2014070700","o":0.4,"e":0.55,"n":0.6},{"t":"2014070712","o":0.55},
      {"t":"2014070800","o":0.45,"e":0.4,"n":0.45},{"t":"2014070812","o":0.6},{"t":"2014070900","o":1.45,"e":1.15,"n":1.28},{"t":"2014070912","o":0.9},
      {"t":"2014071000","o":0.5,"e":0.55,"n":0.6},{"t":"2014071012","o":0.35},{"t":"2014071100","o":0.25,"e":0.35,"n":0.4},{"t":"2014071112","o":0.2},
      {"t":"2014071200","o":0.2,"e":0.3,"n":0.45},{"t":"2014071212","o":0.3},{"t":"2014071300","o":0.25,"e":0.3,"n":0.35},{"t":"2014071312","o":0.4},
      {"t":"2014071400","o":0.55,"e":0.55,"n":0.6},{"t":"2014071412","o":0.65},{"t":"2014071500","o":0.7,"e":0.65,"n":0.75},{"t":"2014071512","o":0.6},
      {"t":"2014071600","o":0.5,"e":0.55,"n":0.65},{"t":"2014071612","o":0.55},{"t":"2014071700","o":0.35,"e":0.5,"n":0.6},{"t":"2014071712","o":0.3},
      {"t":"2014071800","o":0.28,"e":0.4,"n":0.45},{"t":"2014071812","o":0.3},{"t":"2014071900","o":0.3,"e":0.35,"n":0.4},{"t":"2014071912","o":0.45},
      {"t":"2014072000","o":0.5,"e":0.55,"n":0.6},{"t":"2014072012","o":0.75},{"t":"2014072100","o":0.9,"e":0.85,"n":1.0},{"t":"2014072112","o":0.6},
      {"t":"2014072200","o":0.5,"e":0.55,"n":0.6},{"t":"2014072212","o":0.45},{"t":"2014072300","o":0.4,"e":0.45,"n":0.5},{"t":"2014072312","o":0.6},
      {"t":"2014072400","o":0.8,"e":0.75,"n":0.8},{"t":"2014072412","o":1.35},{"t":"2014072500","o":1.1,"e":1.2,"n":1.2},{"t":"2014072512","o":0.6},
      {"t":"2014072600","o":0.45,"e":0.55,"n":0.6},{"t":"2014072612","o":0.35},{"t":"2014072700","o":0.3,"e":0.4,"n":0.45},{"t":"2014072712","o":0.25},
      {"t":"2014072800","o":0.22,"e":0.3,"n":0.35},{"t":"2014072812","o":0.3},{"t":"2014072900","o":0.25,"e":0.3,"n":0.3},{"t":"2014072912","o":0.6},
      {"t":"2014073000","o":1.3,"e":0.85,"n":1.0},{"t":"2014073012","o":1.4},{"t":"2014073100","o":1.25,"e":1.2,"n":1.9},{"t":"2014073112","o":0.8},
      {"t":"2014080100","o":0.6,"e":0.9,"n":1.4},{"t":"2014080112","o":0.4},{"t":"2014080200","o":0.3,"e":0.12,"n":0.3},{"t":"2014080212","o":0.3},
      {"t":"2014080300","o":0.35,"e":0.25,"n":0.35},{"t":"2014080312","o":0.45},{"t":"2014080400","o":0.5,"e":0.45,"n":0.5},{"t":"2014080412","o":0.55},
      {"t":"2014080500","o":0.6,"e":0.6,"n":0.7},{"t":"2014080512","o":0.65},{"t":"2014080600","o":0.6,"e":0.68,"n":0.92},{"t":"2014080612","o":0.5},
      {"t":"2014080700","o":0.4,"e":0.5,"n":0.55},{"t":"2014080712","o":0.3},{"t":"2014080800","o":0.25,"e":0.3,"n":0.35},{"t":"2014080812","o":0.2},
      {"t":"2014080900","o":0.15,"e":0.2,"n":0.2},{"t":"2014080912","o":0.12},{"t":"2014081000","o":0.12,"e":0.1,"n":0.1},{"t":"2014081012","o":0.3},
      {"t":"2014081100","o":0.3,"e":0.3,"n":0.35},{"t":"2014081112","o":0.4},{"t":"2014081200","o":0.5,"e":0.45,"n":0.5},{"t":"2014081212","o":0.4},
      {"t":"2014081300","o":0.35,"e":0.35,"n":0.4},{"t":"2014081312","o":0.45},{"t":"2014081400","o":0.5,"e":0.5,"n":0.55},{"t":"2014081412","o":1.12},
      {"t":"2014081500","o":0.75,"e":0.45,"n":0.75},{"t":"2014081512","o":0.35},{"t":"2014081600","o":0.25,"e":0.3,"n":0.35},{"t":"2014081612","o":0.25},
      {"t":"2014081700","o":0.3,"e":0.3,"n":0.35},{"t":"2014081712","o":0.4},{"t":"2014081800","o":0.45,"e":0.45,"n":0.5},{"t":"2014081812","o":0.6},
      {"t":"2014081900","o":0.65,"e":0.4,"n":0.45},{"t":"2014081912","o":0.4},{"t":"2014082000","o":0.4,"e":0.45,"n":0.5},{"t":"2014082012","o":0.3},
      {"t":"2014082100","o":0.15,"e":0.25,"n":0.3},{"t":"2014082112","o":0.12},{"t":"2014082200","o":0.12,"e":0.15,"n":0.2},{"t":"2014082212","o":0.15},
      {"t":"2014082300","o":0.15,"e":0.15,"n":0.2},{"t":"2014082312","o":0.3},{"t":"2014082400","o":0.35,"e":0.35,"n":0.4},{"t":"2014082412","o":0.3},
      {"t":"2014082500","o":0.2,"e":0.2,"n":0.25},{"t":"2014082512","o":0.25},{"t":"2014082600","o":0.3,"e":0.3,"n":0.35},{"t":"2014082612","o":0.5},
      {"t":"2014082700","o":0.6,"e":0.55,"n":0.6},{"t":"2014082712","o":0.8},{"t":"2014082800","o":1.0,"e":0.85,"n":0.85},{"t":"2014082812","o":1.65},
      {"t":"2014082900","o":1.55,"e":1.3,"n":1.15},{"t":"2014082912","o":0.6},{"t":"2014083000","o":0.35,"e":0.4,"n":0.45},{"t":"2014083012","o":0.2},
      {"t":"2014083100","o":0.2,"e":0.25,"n":0.3},{"t":"2014083112","o":0.22},{"t":"2014090100","o":0.25,"e":0.3,"n":0.35},{"t":"2014090112","o":0.2},
      {"t":"2014090200","o":0.15,"e":0.2,"n":0.25},{"t":"2014090212","o":0.2},{"t":"2014090300","o":0.2,"e":0.25,"n":0.3},{"t":"2014090312","o":0.18},
      {"t":"2014090400","o":0.15,"e":0.2,"n":0.25},{"t":"2014090412","o":0.25},{"t":"2014090500","o":0.3,"e":0.35,"n":0.4},{"t":"2014090512","o":0.25},
      {"t":"2014090600","o":0.2,"e":0.25,"n":0.3},{"t":"2014090612","o":0.2},{"t":"2014090700","o":0.2,"e":0.2,"n":0.25},{"t":"2014090712","o":0.35},
      {"t":"2014090800","o":0.5,"e":0.45,"n":0.55},{"t":"2014090812","o":0.6},{"t":"2014090900","o":0.8,"e":0.75,"n":1.0},{"t":"2014090912","o":0.65},
      {"t":"2014091000","o":0.5,"e":0.55,"n":0.6},{"t":"2014091012","o":0.45},{"t":"2014091100","o":0.3,"e":0.35,"n":0.4},{"t":"2014091112","o":0.25},
      {"t":"2014091200","o":0.5,"e":0.55,"n":0.6},{"t":"2014091212","o":0.45},{"t":"2014091300","o":0.25,"e":0.3,"n":0.35},{"t":"2014091312","o":0.2},
      {"t":"2014091400","o":0.2,"e":0.45,"n":0.5},{"t":"2014091412","o":0.35},{"t":"2014091500","o":0.45,"e":0.55,"n":0.6},{"t":"2014091512","o":0.5},
      {"t":"2014091600","o":0.55,"e":0.6,"n":0.65},{"t":"2014091612","o":0.6},{"t":"2014091700","o":0.65,"e":0.65,"n":0.7},{"t":"2014091712","o":0.8},
      {"t":"2014091800","o":0.95,"e":0.9,"n":1.0},{"t":"2014091812","o":1.2},{"t":"2014091900","o":1.35,"e":1.25,"n":1.42},{"t":"2014091912","o":0.9},
      {"t":"2014092000","o":0.5,"e":0.6,"n":0.7},{"t":"2014092012","o":0.3},{"t":"2014092100","o":0.25,"e":0.3,"n":0.35},{"t":"2014092112","o":0.3},
      {"t":"2014092200","o":0.45,"e":0.5,"n":0.6},{"t":"2014092212","o":0.35},{"t":"2014092300","o":0.2,"e":0.2,"n":0.25},{"t":"2014092312","o":0.25},
      {"t":"2014092400","o":0.75,"e":0.85,"n":0.85},{"t":"2014092412","o":0.7},{"t":"2014092500","o":0.6,"e":0.65,"n":0.7},{"t":"2014092512","o":0.3},
      {"t":"2014092600","o":0.15,"e":0.1,"n":0.15},{"t":"2014092612","o":0.2},{"t":"2014092700","o":0.25,"e":0.3,"n":0.35},{"t":"2014092712","o":0.3},
      {"t":"2014092800","o":0.3,"e":0.35,"n":0.4},{"t":"2014092812","o":0.35},{"t":"2014092900","o":0.3,"e":0.35,"n":0.45},{"t":"2014092912","o":0.4},
      {"t":"2014093000","o":0.55,"e":0.6,"n":0.78},{"t":"2014093012","o":0.35},{"t":"2014100100","o":0.2,"e":0.2,"n":0.25},{"t":"2014100112","o":0.3},
      {"t":"2014100200","o":0.3,"e":0.35,"n":0.4},{"t":"2014100212","o":0.4},{"t":"2014100300","o":0.45,"e":0.5,"n":0.55},{"t":"2014100312","o":0.5},
      {"t":"2014100400","o":0.25,"e":0.25,"n":0.3},{"t":"2014100412","o":0.3},{"t":"2014100500","o":0.4,"e":0.45,"n":0.5},{"t":"2014100512","o":0.5},
      {"t":"2014100600","o":0.6,"e":0.65,"n":0.75},{"t":"2014100612","o":0.8},{"t":"2014100700","o":0.85,"e":1.05,"n":1.25},{"t":"2014100712","o":0.9},
      {"t":"2014100800","o":0.55,"e":0.6,"n":0.7},{"t":"2014100812","o":0.65},{"t":"2014100900","o":0.3,"e":0.35,"n":0.4},{"t":"2014100912","o":0.3},
      {"t":"2014101000","o":0.2,"e":0.25,"n":0.3},{"t":"2014101012","o":0.15},{"t":"2014101100","o":0.12,"e":0.1,"n":0.15},{"t":"2014101112","o":0.4},
      {"t":"2014101200","o":0.5,"e":0.5,"n":0.55},{"t":"2014101212","o":0.6},{"t":"2014101300","o":0.65,"e":0.65,"n":0.7},{"t":"2014101312","o":0.8},
      {"t":"2014101400","o":1.2,"e":0.95,"n":1.05},{"t":"2014101412","o":0.9},{"t":"2014101500","o":0.45,"e":0.45,"n":0.5},{"t":"2014101512","o":0.35},
      {"t":"2014101600","o":0.45,"e":0.5,"n":0.6},{"t":"2014101612","o":0.55},{"t":"2014101700","o":0.7,"e":0.7,"n":0.75},{"t":"2014101712","o":0.8},
      {"t":"2014101800","o":0.75,"e":0.7,"n":0.8},{"t":"2014101812","o":0.8},{"t":"2014101900","o":0.9,"e":0.75,"n":0.85},{"t":"2014101912","o":0.88},
      {"t":"2014102000","o":0.8,"e":0.7,"n":0.75},{"t":"2014102012","o":0.5},{"t":"2014102100","o":0.35,"e":0.35,"n":0.6},{"t":"2014102112","o":0.3},
      {"t":"2014102200","o":0.5,"e":0.55,"n":0.65},{"t":"2014102212","o":0.45},{"t":"2014102300","o":0.3,"e":0.3,"n":0.35},{"t":"2014102312","o":0.25},
      {"t":"2014102400","o":0.22,"e":0.25,"n":0.3},{"t":"2014102412","o":0.25},{"t":"2014102500","o":0.6,"e":0.75,"n":0.92},{"t":"2014102512","o":0.7},
      {"t":"2014063006","o":0.2},{"t":"2014063018","o":0.45},{"t":"2014070106","o":0.6},{"t":"2014070118","o":0.7},{"t":"2014070206","o":1.0},{"t":"2014070218","o":0.85},
      {"t":"2014070306","o":0.6},{"t":"2014070318","o":0.3},{"t":"2014070406","o":0.22},{"t":"2014070418","o":0.3},{"t":"2014070506","o":0.35},{"t":"2014070518","o":0.9},
      {"t":"2014070606","o":1.55},{"t":"2014070618","o":0.8},{"t":"2014070706","o":0.45},{"t":"2014070718","o":0.5},{"t":"2014070806","o":0.5},{"t":"2014070818","o":0.95},
      {"t":"2014070906","o":1.2},{"t":"2014070918","o":0.7},{"t":"2014071006","o":0.4},{"t":"2014071018","o":0.3},{"t":"2014071106","o":0.2},{"t":"2014071118","o":0.25},
      {"t":"2014071206","o":0.25},{"t":"2014071218","o":0.3},{"t":"2014071306","o":0.28},{"t":"2014071318","o":0.5},{"t":"2014071406","o":0.6},{"t":"2014071418","o":0.7},
      {"t":"2014071506","o":0.65},{"t":"2014071518","o":0.55},{"t":"2014071606","o":0.5},{"t":"2014071618","o":0.5},{"t":"2014071706","o":0.32},{"t":"2014071718","o":0.3},
      {"t":"2014071806","o":0.28},{"t":"2014071818","o":0.28},{"t":"2014071906","o":0.35},{"t":"2014071918","o":0.5},{"t":"2014072006","o":0.6},{"t":"2014072018","o":0.85},
      {"t":"2014072106","o":0.75},{"t":"2014072118","o":0.55},{"t":"2014072206","o":0.45},{"t":"2014072218","o":0.42},{"t":"2014072306","o":0.5},{"t":"2014072318","o":0.7},
      {"t":"2014072406","o":1.0},{"t":"2014072418","o":1.3},{"t":"2014072506","o":0.9},{"t":"2014072518","o":0.5},{"t":"2014072606","o":0.4},{"t":"2014072618","o":0.3},
      {"t":"2014072706","o":0.28},{"t":"2014072718","o":0.25},{"t":"2014072806","o":0.25},{"t":"2014072818","o":0.35},{"t":"2014072906","o":0.4},{"t":"2014072918","o":0.9},
      {"t":"2014073006","o":1.35},{"t":"2014073018","o":1.3},{"t":"2014073106","o":1.0},{"t":"2014073118","o":0.7},{"t":"2014080106","o":0.5},{"t":"2014080118","o":0.35},
      {"t":"2014080206","o":0.3},{"t":"2014080218","o":0.35},{"t":"2014080306","o":0.4},{"t":"2014080318","o":0.5},{"t":"2014080406","o":0.5},{"t":"2014080418","o":0.6},
      {"t":"2014080506","o":0.62},{"t":"2014080518","o":0.65},{"t":"2014080606","o":0.55},{"t":"2014080618","o":0.45},{"t":"2014080706","o":0.35},{"t":"2014080718","o":0.28},
      {"t":"2014080806","o":0.22},{"t":"2014080818","o":0.18},{"t":"2014080906","o":0.12},{"t":"2014080918","o":0.12},{"t":"2014081006","o":0.2},{"t":"2014081018","o":0.3},
      {"t":"2014081106","o":0.35},{"t":"2014081118","o":0.45},{"t":"2014081206","o":0.45},{"t":"2014081218","o":0.38},{"t":"2014081306","o":0.4},{"t":"2014081318","o":0.5},
      {"t":"2014081406","o":0.8},{"t":"2014081418","o":1.1},{"t":"2014081506","o":0.5},{"t":"2014081518","o":0.3},{"t":"2014081606","o":0.25},{"t":"2014081618","o":0.28},
      {"t":"2014081706","o":0.35},{"t":"2014081718","o":0.45},{"t":"2014081806","o":0.55},{"t":"2014081818","o":0.6},{"t":"2014081906","o":0.5},{"t":"2014081918","o":0.35},
      {"t":"2014082006","o":0.35},{"t":"2014082018","o":0.25},{"t":"2014082106","o":0.12},{"t":"2014082118","o":0.12},{"t":"2014082206","o":0.13},{"t":"2014082218","o":0.15},
      {"t":"2014082306","o":0.22},{"t":"2014082318","o":0.35},{"t":"2014082406","o":0.32},{"t":"2014082418","o":0.25},{"t":"2014082506","o":0.22},{"t":"2014082518","o":0.28},
      {"t":"2014082606","o":0.4},{"t":"2014082618","o":0.55},{"t":"2014082706","o":0.7},{"t":"2014082718","o":0.9},{"t":"2014082806","o":1.3},{"t":"2014082818","o":1.55},
      {"t":"2014082906","o":1.0},{"t":"2014082918","o":0.4},{"t":"2014083006","o":0.25},{"t":"2014083018","o":0.2},{"t":"2014083106","o":0.2},{"t":"2014083118","o":0.25},
      {"t":"2014090106","o":0.22},{"t":"2014090118","o":0.18},{"t":"2014090206","o":0.18},{"t":"2014090218","o":0.2},{"t":"2014090306","o":0.2},{"t":"2014090318","o":0.2},
      {"t":"2014090406","o":0.2},{"t":"2014090418","o":0.28},{"t":"2014090506","o":0.28},{"t":"2014090518","o":0.22},{"t":"2014090606","o":0.2},{"t":"2014090618","o":0.22},
      {"t":"2014090706","o":0.28},{"t":"2014090718","o":0.45},{"t":"2014090806","o":0.55},{"t":"2014090818","o":0.7},{"t":"2014090906","o":0.75},{"t":"2014090918","o":0.55},
      {"t":"2014091006","o":0.45},{"t":"2014091018","o":0.35},{"t":"2014091106","o":0.28},{"t":"2014091118","o":0.35},{"t":"2014091206","o":0.5},{"t":"2014091218","o":0.35},
      {"t":"2014091306","o":0.22},{"t":"2014091318","o":0.2},{"t":"2014091406","o":0.28},{"t":"2014091418","o":0.4},{"t":"2014091506","o":0.5},{"t":"2014091518","o":0.55},
      {"t":"2014091606","o":0.58},{"t":"2014091618","o":0.62},{"t":"2014091706","o":0.7},{"t":"2014091718","o":0.85},{"t":"2014091806","o":1.05},{"t":"2014091818","o":1.25},
      {"t":"2014091906","o":1.2},{"t":"2014091918","o":0.7},{"t":"2014092006","o":0.4},{"t":"2014092018","o":0.28},{"t":"2014092106","o":0.28},{"t":"2014092118","o":0.4},
      {"t":"2014092206","o":0.4},{"t":"2014092218","o":0.28},{"t":"2014092306","o":0.22},{"t":"2014092318","o":0.5},{"t":"2014092406","o":0.8},{"t":"2014092418","o":0.65},
      {"t":"2014092506","o":0.45},{"t":"2014092518","o":0.2},{"t":"2014092606","o":0.18},{"t":"2014092618","o":0.22},{"t":"2014092706","o":0.28},{"t":"2014092718","o":0.3},
      {"t":"2014092806","o":0.32},{"t":"2014092818","o":0.35},{"t":"2014092906","o":0.35},{"t":"2014092918","o":0.5},{"t":"2014093006","o":0.45},{"t":"2014093018","o":0.25},
      {"t":"2014100106","o":0.25},{"t":"2014100118","o":0.35},{"t":"2014100206","o":0.35},{"t":"2014100218","o":0.45},{"t":"2014100306","o":0.5},{"t":"2014100318","o":0.35},
      {"t":"2014100406","o":0.28},{"t":"2014100418","o":0.35},{"t":"2014100506","o":0.45},{"t":"2014100518","o":0.55},{"t":"2014100606","o":0.7},{"t":"2014100618","o":0.85},
      {"t":"2014100706","o":0.9},{"t":"2014100718","o":0.75},{"t":"2014100806","o":0.6},{"t":"2014100818","o":0.45},{"t":"2014100906","o":0.3},{"t":"2014100918","o":0.25},
      {"t":"2014101006","o":0.18},{"t":"2014101018","o":0.12},{"t":"2014101106","o":0.2},{"t":"2014101118","o":0.45},{"t":"2014101206","o":0.55},{"t":"2014101218","o":0.62},
      {"t":"2014101306","o":0.7},{"t":"2014101318","o":0.95},{"t":"2014101406","o":1.05},{"t":"2014101418","o":0.6},{"t":"2014101506","o":0.4},{"t":"2014101518","o":0.4},
      {"t":"2014101606","o":0.5},{"t":"2014101618","o":0.65},{"t":"2014101706","o":0.75},{"t":"2014101718","o":0.78},{"t":"2014101806","o":0.8},{"t":"2014101818","o":0.85},
      {"t":"2014101906","o":0.88},{"t":"2014101918","o":0.85},{"t":"2014102006","o":0.65},{"t":"2014102018","o":0.4},{"t":"2014102106","o":0.3},{"t":"2014102118","o":0.45},
      {"t":"2014102206","o":0.5},{"t":"2014102218","o":0.35},{"t":"2014102306","o":0.28},{"t":"2014102318","o":0.22},{"t":"2014102406","o":0.22},{"t":"2014102418","o":0.4},
      {"t":"2014102506","o":0.65}
    ]
  },
  "columns": 2,
  "spacing": {"row": 106, "column": 233},
  "bounds": "flush",
  "resolve": {
    "scale": {"x": "independent", "y": "independent", "color": "independent", "shape": "independent", "strokeDash": "independent"},
    "legend": {"color": "independent", "shape": "independent", "strokeDash": "independent"}
  },
  "concat": [
    {
      "width": 380, "height": 179,
      "title": {"text": "小麦岛（2012 年）", "offset": 5},
      "data": {"name": "p1", "format": {"parse": {"t": "date:'%Y%m%d%H'"}}},
      "transform": [{"fold": ["o", "e", "n"], "as": ["s", "v"]}, {"filter": "isValid(datum.v)"}],
      "encoding": {
        "x": {"field": "t", "type": "temporal", "title": "时间",
          "scale": {"domain": [{"year": 2012, "month": 7, "date": 31, "hours": 17, "minutes": 24}, {"year": 2012, "month": 8, "date": 14, "hours": 6, "minutes": 48}], "nice": false},
          "axis": {"values": [{"year": 2012, "month": 8, "date": 1}, {"year": 2012, "month": 8, "date": 4}, {"year": 2012, "month": 8, "date": 7}, {"year": 2012, "month": 8, "date": 10}, {"year": 2012, "month": 8, "date": 13}], "format": "%m/%d/%y"}},
        "y": {"field": "v", "type": "quantitative", "title": "波高/m",
          "scale": {"domain": [0, 4.5], "nice": false},
          "axis": {"values": [0, 1, 2, 3, 4], "format": "d"}}
      },
      "layer": [
        {"transform": [{"filter": "datum.s == 'o'"}],
          "mark": {"type": "point", "filled": false, "size": 16, "strokeWidth": 1, "color": "#444444", "opacity": 1},
          "encoding": {"shape": {"datum": "实测数据", "scale": {"range": ["circle"]}, "legend": {"title": null, "orient": "none", "legendX": 7, "legendY": 11, "symbolSize": 22, "labelOffset": -4, "direction": "horizontal"}}}},
        {"transform": [{"filter": "datum.s == 'e'"}],
          "mark": {"type": "line", "strokeWidth": 1.6},
          "encoding": {
            "color": {"datum": "SW ERA5", "type": "nominal", "scale": {"domain": ["SW ERA5", "SW NCEP"], "range": ["#ee2a2a", "#3b4bb0"]}, "legend": {"title": null, "orient": "none", "legendX": 116, "legendY": 11, "symbolSize": 625, "symbolStrokeWidth": 1.6, "direction": "horizontal", "labelOffset": 7, "columnPadding": 6}},
            "strokeDash": {"datum": "SW ERA5", "type": "nominal", "scale": {"domain": ["SW ERA5", "SW NCEP"], "range": [[1, 0], [5, 4]]}, "legend": {"title": null, "orient": "none", "legendX": 116, "legendY": 11, "symbolSize": 625, "symbolStrokeWidth": 1.6, "direction": "horizontal", "labelOffset": 7, "columnPadding": 6}}}},
        {"transform": [{"filter": "datum.s == 'n'"}],
          "mark": {"type": "line", "strokeWidth": 1.6},
          "encoding": {
            "color": {"datum": "SW NCEP", "type": "nominal"},
            "strokeDash": {"datum": "SW NCEP", "type": "nominal"}}}
      ]
    },
    {
      "width": 378, "height": 179,
      "title": {"text": "小麦岛（2014 年）", "offset": -7},
      "data": {"name": "p2", "format": {"parse": {"t": "date:'%Y%m%d%H'"}}},
      "transform": [{"fold": ["o", "e", "n"], "as": ["s", "v"]}, {"filter": "isValid(datum.v)"}],
      "encoding": {
        "x": {"field": "t", "type": "temporal", "title": "时间",
          "scale": {"domain": [{"year": 2014, "month": 6, "date": 30, "hours": 10, "minutes": 35}, {"year": 2014, "month": 7, "date": 30, "hours": 15, "minutes": 40}], "nice": false},
          "axis": {"values": [{"year": 2014, "month": 7, "date": 1}, {"year": 2014, "month": 7, "date": 8}, {"year": 2014, "month": 7, "date": 15}, {"year": 2014, "month": 7, "date": 22}, {"year": 2014, "month": 7, "date": 29}], "format": "%m/%d/%y"}},
        "y": {"field": "v", "type": "quantitative", "title": "波高/m",
          "scale": {"domain": [0, 3.5], "nice": false},
          "axis": {"values": [0, 0.5, 1, 1.5, 2, 2.5, 3, 3.5], "labelExpr": "datum.value == 0 ? '0' : format(datum.value, '.1f')"}}
      },
      "layer": [
        {"transform": [{"filter": "datum.s == 'o'"}],
          "mark": {"type": "point", "filled": false, "size": 16, "strokeWidth": 1, "color": "#444444", "opacity": 1},
          "encoding": {"shape": {"datum": "实测数据", "scale": {"range": ["circle"]}, "legend": {"title": null, "orient": "none", "legendX": 7, "legendY": 8, "symbolSize": 22, "labelOffset": -1, "direction": "horizontal"}}}},
        {"transform": [{"filter": "datum.s == 'e'"}],
          "mark": {"type": "line", "strokeWidth": 1.6},
          "encoding": {
            "color": {"datum": "SW ERA5", "type": "nominal", "scale": {"domain": ["SW ERA5", "SW NCEP"], "range": ["#ee2a2a", "#3b4bb0"]}, "legend": {"title": null, "orient": "none", "legendX": 118, "legendY": 8, "symbolSize": 625, "symbolStrokeWidth": 1.6, "direction": "horizontal", "labelOffset": 7, "columnPadding": 6}},
            "strokeDash": {"datum": "SW ERA5", "type": "nominal", "scale": {"domain": ["SW ERA5", "SW NCEP"], "range": [[1, 0], [5, 4]]}, "legend": {"title": null, "orient": "none", "legendX": 118, "legendY": 8, "symbolSize": 625, "symbolStrokeWidth": 1.6, "direction": "horizontal", "labelOffset": 7, "columnPadding": 6}}}},
        {"transform": [{"filter": "datum.s == 'n'"}],
          "mark": {"type": "line", "strokeWidth": 1.6},
          "encoding": {
            "color": {"datum": "SW NCEP", "type": "nominal"},
            "strokeDash": {"datum": "SW NCEP", "type": "nominal"}}}
      ]
    },
    {
      "width": 378, "height": 179,
      "title": {"text": "青岛西（2013 年）", "offset": -7},
      "data": {"name": "p3", "format": {"parse": {"t": "date:'%Y%m%d%H'"}}},
      "transform": [{"fold": ["o", "e", "n"], "as": ["s", "v"]}, {"filter": "isValid(datum.v)"}],
      "encoding": {
        "x": {"field": "t", "type": "temporal", "title": "时间",
          "scale": {"domain": [{"year": 2013, "month": 11, "date": 3, "hours": 7, "minutes": 20}, {"year": 2013, "month": 11, "date": 30, "hours": 11}], "nice": false},
          "axis": {"values": [{"year": 2013, "month": 11, "date": 4}, {"year": 2013, "month": 11, "date": 11}, {"year": 2013, "month": 11, "date": 18}, {"year": 2013, "month": 11, "date": 25}], "format": "%m/%d/%y", "titlePadding": 8}},
        "y": {"field": "v", "type": "quantitative", "title": "波高/m",
          "scale": {"domain": [0, 2.5], "nice": false},
          "axis": {"values": [0, 0.5, 1, 1.5, 2, 2.5], "labelExpr": "datum.value == 0 ? '0' : format(datum.value, '.1f')"}}
      },
      "layer": [
        {"transform": [{"filter": "datum.s == 'o'"}],
          "mark": {"type": "point", "filled": false, "size": 16, "strokeWidth": 1, "color": "#555555", "opacity": 1},
          "encoding": {"shape": {"datum": "实测数据", "scale": {"range": ["circle"]}, "legend": {"title": null, "orient": "none", "legendX": 6, "legendY": 11, "symbolSize": 22, "labelOffset": -2, "direction": "horizontal"}}}},
        {"transform": [{"filter": "datum.s == 'e'"}],
          "mark": {"type": "line", "strokeWidth": 1.6},
          "encoding": {
            "color": {"datum": "SW ERA5", "type": "nominal", "scale": {"domain": ["SW ERA5", "SW NCEP"], "range": ["#ee2a2a", "#3b4bb0"]}, "legend": {"title": null, "orient": "none", "legendX": 116, "legendY": 11, "symbolSize": 625, "symbolStrokeWidth": 1.6, "direction": "horizontal", "labelOffset": 7, "columnPadding": 6}},
            "strokeDash": {"datum": "SW ERA5", "type": "nominal", "scale": {"domain": ["SW ERA5", "SW NCEP"], "range": [[1, 0], [5, 4]]}, "legend": {"title": null, "orient": "none", "legendX": 116, "legendY": 11, "symbolSize": 625, "symbolStrokeWidth": 1.6, "direction": "horizontal", "labelOffset": 7, "columnPadding": 6}}}},
        {"transform": [{"filter": "datum.s == 'n'"}],
          "mark": {"type": "line", "strokeWidth": 1.6},
          "encoding": {
            "color": {"datum": "SW NCEP", "type": "nominal"},
            "strokeDash": {"datum": "SW NCEP", "type": "nominal"}}}
      ]
    },
    {
      "width": 378, "height": 179,
      "title": {"text": "青岛西（2014 年）", "offset": -7},
      "data": {"name": "p4", "format": {"parse": {"t": "date:'%Y%m%d%H'"}}},
      "transform": [{"fold": ["o", "e", "n"], "as": ["s", "v"]}, {"filter": "isValid(datum.v)"}],
      "encoding": {
        "x": {"field": "t", "type": "temporal", "title": "时间",
          "scale": {"domain": [{"year": 2014, "month": 6, "date": 22, "hours": 12, "minutes": 30}, {"year": 2014, "month": 11, "date": 3, "hours": 11, "minutes": 20}], "nice": false},
          "axis": {"values": [{"year": 2014, "month": 6, "date": 25}, {"year": 2014, "month": 7, "date": 23}, {"year": 2014, "month": 8, "date": 20}, {"year": 2014, "month": 9, "date": 17}, {"year": 2014, "month": 10, "date": 15}], "format": "%m/%d/%y", "titlePadding": 8}},
        "y": {"field": "v", "type": "quantitative", "title": "波高/m",
          "scale": {"domain": [0, 2.5], "nice": false},
          "axis": {"values": [0, 0.5, 1, 1.5, 2, 2.5], "labelExpr": "datum.value == 0 ? '0' : format(datum.value, '.1f')"}}
      },
      "layer": [
        {"transform": [{"filter": "datum.s == 'o'"}],
          "mark": {"type": "point", "filled": false, "size": 16, "strokeWidth": 1, "color": "#444444", "opacity": 1},
          "encoding": {"shape": {"datum": "实测数据", "scale": {"range": ["circle"]}, "legend": {"title": null, "orient": "none", "legendX": 7, "legendY": 11, "symbolSize": 22, "labelOffset": -1, "direction": "horizontal"}}}},
        {"transform": [{"filter": "datum.s == 'e'"}],
          "mark": {"type": "line", "strokeWidth": 1.6},
          "encoding": {
            "color": {"datum": "SW ERA5", "type": "nominal", "scale": {"domain": ["SW ERA5", "SW NCEP"], "range": ["#ee2a2a", "#3b4bb0"]}, "legend": {"title": null, "orient": "none", "legendX": 118, "legendY": 11, "symbolSize": 625, "symbolStrokeWidth": 1.6, "direction": "horizontal", "labelOffset": 7, "columnPadding": 6}},
            "strokeDash": {"datum": "SW ERA5", "type": "nominal", "scale": {"domain": ["SW ERA5", "SW NCEP"], "range": [[1, 0], [5, 4]]}, "legend": {"title": null, "orient": "none", "legendX": 118, "legendY": 11, "symbolSize": 625, "symbolStrokeWidth": 1.6, "direction": "horizontal", "labelOffset": 7, "columnPadding": 6}}}},
        {"transform": [{"filter": "datum.s == 'n'"}],
          "mark": {"type": "line", "strokeWidth": 1.6},
          "encoding": {
            "color": {"datum": "SW NCEP", "type": "nominal"},
            "strokeDash": {"datum": "SW NCEP", "type": "nominal"}}}
      ]
    }
  ]
}
